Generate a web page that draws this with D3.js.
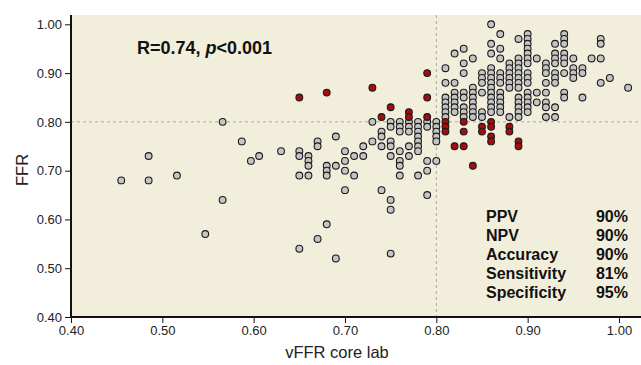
<!DOCTYPE html>
<html>
<head>
<meta charset="utf-8">
<title>vFFR vs FFR</title>
<script src="https://cdnjs.cloudflare.com/ajax/libs/d3/7.8.5/d3.min.js"></script>
<style>
  body { margin: 0; background: #fff; }
  .tick text { font-family: "Liberation Sans", Arial, sans-serif; font-size: 13px; fill: #222; }
  .axis path, .axis line { stroke: #111; }
  .axis path { stroke-width: 2px; }
  .titel { font-family: "Liberation Sans", Arial, sans-serif; font-size: 16.5px; fill: #222; }
  .fett { font-family: "Liberation Sans", Arial, sans-serif; font-weight: bold; fill: #111; }
</style>
</head>
<body>
<div id="chart"></div>
<script>
// concordant lesions [vFFR, FFR] (grey)
var greyPoints = [
  [0.455,0.68],[0.485,0.73],[0.485,0.68],[0.516,0.69],[0.547,0.57],[0.566,0.80],[0.566,0.64],
  [0.587,0.76],[0.597,0.72],[0.606,0.73],
  [0.63,0.74],
  [0.65,0.74],[0.65,0.73],[0.65,0.69],[0.65,0.54],
  [0.66,0.73],[0.66,0.72],[0.66,0.71],[0.66,0.69],
  [0.67,0.76],[0.67,0.75],[0.67,0.56],
  [0.68,0.71],[0.68,0.70],[0.68,0.69],[0.68,0.59],
  [0.69,0.77],[0.69,0.71],[0.69,0.52],
  [0.70,0.74],[0.70,0.72],[0.70,0.70],[0.70,0.66],
  [0.71,0.73],[0.71,0.69],
  [0.72,0.75],[0.72,0.73],
  [0.73,0.80],[0.73,0.76],
  [0.74,0.78],[0.74,0.77],[0.74,0.75],[0.74,0.66],
  [0.75,0.80],[0.75,0.79],[0.75,0.76],[0.75,0.75],[0.75,0.73],[0.75,0.64],[0.75,0.62],[0.75,0.53],
  [0.76,0.80],[0.76,0.79],[0.76,0.78],[0.76,0.74],[0.76,0.72],[0.76,0.71],[0.76,0.69],
  [0.77,0.80],[0.77,0.79],[0.77,0.78],[0.77,0.75],[0.77,0.73],
  [0.78,0.80],[0.78,0.79],[0.78,0.78],[0.78,0.77],[0.78,0.76],[0.78,0.75],[0.78,0.74],[0.78,0.69],
  [0.79,0.80],[0.79,0.79],[0.79,0.72],[0.79,0.70],[0.79,0.65],
  [0.80,0.80],[0.80,0.79],[0.80,0.78],[0.80,0.77],[0.80,0.76],[0.80,0.72],
  [0.81,0.91],[0.81,0.88],[0.81,0.85],[0.81,0.84],[0.81,0.83],[0.81,0.82],[0.81,0.81],
  [0.82,0.94],[0.82,0.88],[0.82,0.86],[0.82,0.85],[0.82,0.84],[0.82,0.83],[0.82,0.82],
  [0.83,0.95],[0.83,0.92],[0.83,0.90],[0.83,0.86],[0.83,0.85],[0.83,0.83],[0.83,0.82],[0.83,0.81],
  [0.84,0.93],[0.84,0.87],[0.84,0.86],[0.84,0.85],[0.84,0.84],[0.84,0.83],[0.84,0.82],[0.84,0.81],
  [0.85,0.90],[0.85,0.89],[0.85,0.88],[0.85,0.86],[0.85,0.82],[0.85,0.81],
  [0.86,1.00],[0.86,0.96],[0.86,0.94],[0.86,0.91],[0.86,0.90],[0.86,0.89],[0.86,0.88],[0.86,0.87],
  [0.86,0.86],[0.86,0.85],[0.86,0.84],[0.86,0.83],[0.86,0.82],
  [0.87,0.98],[0.87,0.95],[0.87,0.93],[0.87,0.90],[0.87,0.89],[0.87,0.88],[0.87,0.86],[0.87,0.85],
  [0.87,0.84],[0.87,0.83],[0.87,0.82],
  [0.88,0.92],[0.88,0.91],[0.88,0.90],[0.88,0.89],[0.88,0.88],[0.88,0.87],[0.88,0.81],
  [0.89,0.97],[0.89,0.93],[0.89,0.92],[0.89,0.91],[0.89,0.90],[0.89,0.89],[0.89,0.88],[0.89,0.87],
  [0.89,0.85],[0.89,0.84],[0.89,0.83],[0.89,0.82],[0.89,0.81],
  [0.90,0.98],[0.90,0.97],[0.90,0.96],[0.90,0.95],[0.90,0.94],[0.90,0.93],[0.90,0.92],[0.90,0.90],
  [0.90,0.89],[0.90,0.88],[0.90,0.86],[0.90,0.85],[0.90,0.84],[0.90,0.83],[0.90,0.82],
  [0.91,0.93],[0.91,0.86],[0.91,0.84],
  [0.92,0.92],[0.92,0.91],[0.92,0.90],[0.92,0.88],[0.92,0.86],[0.92,0.84],[0.92,0.83],[0.92,0.81],
  [0.93,0.96],[0.93,0.94],[0.93,0.93],[0.93,0.92],[0.93,0.90],[0.93,0.89],[0.93,0.88],[0.93,0.83],[0.93,0.81],
  [0.94,0.98],[0.94,0.97],[0.94,0.96],[0.94,0.94],[0.94,0.93],[0.94,0.92],[0.94,0.90],[0.94,0.86],[0.94,0.85],
  [0.95,0.93],[0.95,0.91],[0.95,0.90],[0.95,0.89],
  [0.96,0.91],[0.96,0.90],[0.96,0.85],
  [0.97,0.93],
  [0.98,0.97],[0.98,0.96],[0.98,0.93],[0.98,0.88],
  [0.99,0.89],
  [1.01,0.87]
];

// discordant lesions [vFFR, FFR] (red)
var redPoints = [
  [0.65,0.85],[0.68,0.86],[0.73,0.87],[0.74,0.81],[0.75,0.83],[0.77,0.82],[0.77,0.81],
  [0.79,0.90],[0.79,0.85],[0.79,0.81],
  [0.81,0.80],[0.81,0.79],[0.81,0.78],[0.82,0.75],[0.83,0.80],[0.83,0.78],[0.83,0.75],
  [0.84,0.71],[0.85,0.79],[0.85,0.78],[0.86,0.80],[0.86,0.79],[0.86,0.77],[0.86,0.76],
  [0.88,0.79],[0.88,0.78],[0.89,0.76],[0.89,0.75]
];

var xTicks = [0.40, 0.50, 0.60, 0.70, 0.80, 0.90, 1.00];
var yTicks = [0.40, 0.50, 0.60, 0.70, 0.80, 0.90, 1.00];
var cutOff = 0.80;
var statNames = ["PPV", "NPV", "Accuracy", "Sensitivity", "Specificity"];
var statValues = ["90%", "90%", "90%", "81%", "95%"];

var breite = 641, hoehe = 365;
var links = 71, oben = 15, unten = 317, rechts = 641;

var x = d3.scaleLinear().domain([0.40, 1.00]).range([links, links + 6 * 91.33]);
var y = d3.scaleLinear().domain([0.40, 1.00]).range([unten, 24.3]);

var svg = d3.select("#chart").append("svg")
  .attr("width", breite)
  .attr("height", hoehe);

svg.append("rect")
  .attr("x", links).attr("y", oben)
  .attr("width", rechts - links).attr("height", unten - oben)
  .attr("fill", "#f1eedc");

// cut-off lines
svg.append("line")
  .attr("x1", links).attr("x2", rechts)
  .attr("y1", y(cutOff)).attr("y2", y(cutOff))
  .attr("stroke", "#a9a9a9").attr("stroke-dasharray", "3,3");
svg.append("line")
  .attr("x1", x(cutOff)).attr("x2", x(cutOff))
  .attr("y1", oben).attr("y2", unten)
  .attr("stroke", "#a9a9a9").attr("stroke-dasharray", "3,3");

svg.append("g")
  .attr("class", "axis")
  .attr("transform", "translate(" + links + ",0)")
  .call(d3.axisLeft(y).tickValues(yTicks).tickFormat(d3.format(".2f")).tickSize(6).tickSizeOuter(0))
  .call(function (g) { g.select(".domain").attr("d", "M0," + unten + "V" + oben); });

svg.append("g")
  .attr("class", "axis")
  .attr("transform", "translate(0," + unten + ")")
  .call(d3.axisBottom(x).tickValues(xTicks).tickFormat(d3.format(".2f")).tickSize(6).tickSizeOuter(0))
  .call(function (g) { g.select(".domain").attr("d", "M" + links + ",0H" + rechts); });

svg.append("g").selectAll("circle")
  .data(greyPoints)
  .enter()
  .append("circle")
  .attr("cx", function (d) { return x(d[0]); })
  .attr("cy", function (d) { return y(d[1]); })
  .attr("r", 3.4)
  .attr("fill", "#c4c4c4")
  .attr("stroke", "#1a1a1a")
  .attr("stroke-width", 1.1);

svg.append("g").selectAll("circle")
  .data(redPoints)
  .enter()
  .append("circle")
  .attr("cx", function (d) { return x(d[0]); })
  .attr("cy", function (d) { return y(d[1]); })
  .attr("r", 3.4)
  .attr("fill", "#a50d0d")
  .attr("stroke", "#1a1a1a")
  .attr("stroke-width", 1.1);

svg.append("text")
  .attr("class", "titel")
  .attr("x", 337).attr("y", 358)
  .attr("text-anchor", "middle")
  .text("vFFR core lab");

svg.append("text")
  .attr("class", "titel")
  .attr("transform", "translate(28,170) rotate(-90)")
  .attr("text-anchor", "middle")
  .text("FFR");

var rText = svg.append("text")
  .attr("class", "fett")
  .attr("x", 137).attr("y", 54)
  .style("font-size", "18px");
rText.append("tspan").text("R=0.74, ");
rText.append("tspan").style("font-style", "italic").text("p");
rText.append("tspan").text("<0.001");

var statG = svg.append("g");
statNames.forEach(function (name, i) {
  statG.append("text")
    .attr("class", "fett")
    .attr("x", 486).attr("y", 222 + i * 19)
    .style("font-size", "16px")
    .text(name);
  statG.append("text")
    .attr("class", "fett")
    .attr("x", 628).attr("y", 222 + i * 19)
    .attr("text-anchor", "end")
    .style("font-size", "16px")
    .text(statValues[i]);
});
</script>
</body>
</html>
